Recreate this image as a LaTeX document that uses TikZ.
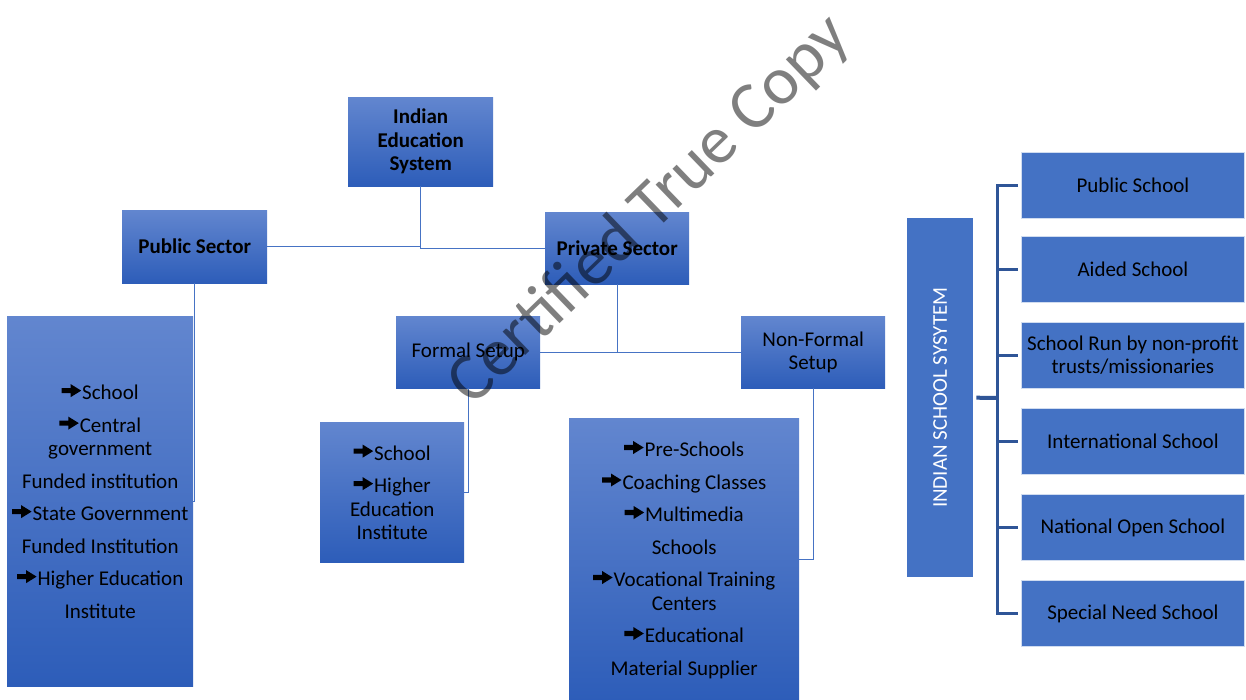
\documentclass[tikz,border=0pt]{standalone}
\usepackage{fontspec}
\setmainfont{Carlito}
\definecolor{boxtop}{RGB}{98,134,207}
\definecolor{boxbot}{RGB}{45,93,185}
\definecolor{flatblue}{RGB}{68,114,196}
\definecolor{linkblue}{RGB}{70,115,196}
\definecolor{bracketblue}{RGB}{47,85,151}
% heavy bullet arrow used in the lists
\newsavebox{\arrowbox}
\newcommand{\myarrow}{\usebox{\arrowbox}\hspace{1pt}}
% extra space between list entries
\newcommand{\entrygap}{\\[9pt]}

\begin{document}
\sbox{\arrowbox}{%
  \begin{pgfpicture}
    \pgfpathmoveto{\pgfpoint{0pt}{3.4pt}}%
    \pgfpathlineto{\pgfpoint{9pt}{3.4pt}}%
    \pgfpathlineto{\pgfpoint{9pt}{-0.5pt}}%
    \pgfpathlineto{\pgfpoint{19.5pt}{6pt}}%
    \pgfpathlineto{\pgfpoint{9pt}{12.5pt}}%
    \pgfpathlineto{\pgfpoint{9pt}{8.6pt}}%
    \pgfpathlineto{\pgfpoint{0pt}{8.6pt}}%
    \pgfpathclose
    \pgfsetfillcolor{black}%
    \pgfusepath{fill}%
    \pgfsetbaseline{-3pt}%
  \end{pgfpicture}}%
\begin{tikzpicture}[x=1pt,y=-1pt,
  gbox/.style={anchor=north west, inner sep=0pt, draw=none,
    top color=boxtop, bottom color=boxbot, align=center,
    font=\fontsize{21}{23.5}\selectfont},
  headbox/.style={gbox, font=\fontsize{21}{23.5}\selectfont\bfseries},
  sbox/.style={anchor=north west, inner sep=0pt, fill=flatblue,
    draw=white!75!flatblue, line width=0.8pt, align=center,
    minimum width=223pt, minimum height=66pt,
    font=\fontsize{21}{23.5}\selectfont},
  link/.style={draw=linkblue, line width=1.3pt},
  bracket/.style={draw=bracketblue, line width=3pt, line join=miter},
  stub/.style={draw=bracketblue, line width=4pt},
  watermark/.style={text=black, text opacity=0.5, rotate=44,
    font=\fontsize{68}{68}\selectfont}
]
\useasboundingbox (0,0) rectangle (1246,700);

% education system tree
\node[headbox, minimum width=145pt, minimum height=89pt] (ies) at (348,97) {Indian\\Education\\System};
\node[headbox, minimum width=145pt, minimum height=73pt] (pub) at (122,210) {Public Sector};
\node[headbox, minimum width=144pt, minimum height=72pt] (priv) at (545,212) {Private Sector};
\node[gbox, minimum width=144pt, minimum height=72pt] (formal) at (396,316) {Formal Setup};
\node[gbox, minimum width=144pt, minimum height=72pt] (nonformal) at (741,316) {Non-Formal\\Setup};

\node[gbox, minimum width=186pt, minimum height=370pt] (publist) at (7,316)
  {\myarrow School\entrygap
   \myarrow Central\\government\entrygap
   Funded institution\entrygap
   \myarrow State Government\entrygap
   Funded Institution\entrygap
   \myarrow Higher Education\entrygap
   Institute};
\node[gbox, minimum width=144pt, minimum height=140pt] (formallist) at (320,422)
  {\myarrow School\entrygap
   \myarrow Higher\\Education\\Institute};
\node[gbox, minimum width=230pt, minimum height=283pt] (nflist) at (569,418)
  {\myarrow Pre-Schools\entrygap
   \myarrow Coaching Classes\entrygap
   \myarrow Multimedia\entrygap
   Schools\entrygap
   \myarrow Vocational Training\\Centers\entrygap
   \myarrow Educational\entrygap
   Material Supplier};

% tree connectors
\draw[link] (pub.east) -- (pub.east -| ies.south);
\draw[link] (ies.south) |- (priv.west);
\draw[link] (pub.south) |- (publist.east);
\draw[link] (priv.south) -- (priv.south |- formal.east);
\draw[link] (formal.east) -- (nonformal.west);
\draw[link] (formal.south) |- (formallist.east);
\draw[link] (nonformal.south) |- (nflist.east);

% school system panel
\node[anchor=north west, inner sep=0pt, fill=flatblue, minimum width=66pt, minimum height=359pt] (iss) at (907,218) {};
\node[rotate=90, text=white, font=\fontsize{21}{23.5}\selectfont] (isslabel) at (iss.center) {INDIAN SCHOOL SYSYTEM};

\node[sbox] (ps) at (1021,152) {Public School};
\node[sbox] (ai) at (1021,236) {Aided School};
\node[sbox] (sr) at (1021,322) {School Run by non-profit\\trusts/missionaries};
\node[sbox] (is) at (1021,408) {International School};
\node[sbox] (no) at (1021,494) {National Open School};
\node[sbox] (sn) at (1021,580) {Special Need School};

\coordinate (hub) at (997,398);
\draw[stub] ([xshift=3pt]iss.east) -- (hub);
\draw[bracket] ([xshift=-3pt]ps.west) -| (hub |- sn.west) -- ([xshift=-3pt]sn.west);
\foreach \b in {ai,sr,is,no}
  \draw[bracket] (hub |- \b.west) -- ([xshift=-3pt]\b.west);

% overlay stamp
\node[watermark] (wm) at (650,211) {Certified True Copy};
\end{tikzpicture}
\end{document}
